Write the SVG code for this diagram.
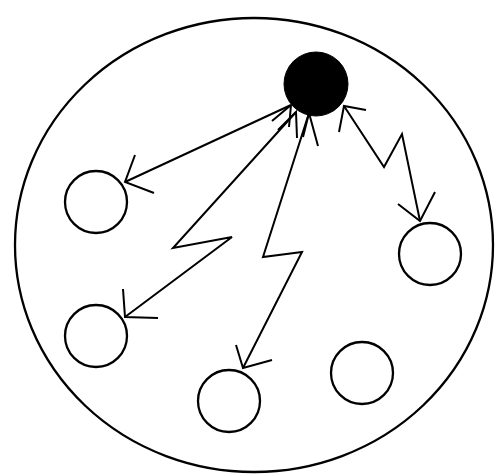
<svg xmlns="http://www.w3.org/2000/svg" width="495" height="476" viewBox="0 0 495 476">
<style>
.ring{fill:none;stroke:#000;stroke-width:2.3}
.hub{fill:#000;stroke:#000;stroke-width:1}
.con{fill:none;stroke:#000;stroke-width:2;stroke-linejoin:miter}
</style>
<rect width="495" height="476" fill="#fff"/>
<g id="boundary"><ellipse class="ring" cx="254" cy="245" rx="239" ry="227"/></g>
<g id="hub"><circle class="hub" cx="316" cy="84" r="32"/></g>
<g id="n1"><circle class="ring" cx="96" cy="202" r="31"/></g>
<g id="n2"><circle class="ring" cx="96" cy="336" r="31"/></g>
<g id="n3"><circle class="ring" cx="229" cy="401" r="31"/></g>
<g id="n4"><circle class="ring" cx="362" cy="373" r="31"/></g>
<g id="n5"><circle class="ring" cx="430" cy="254" r="31"/></g>
<g id="connectors">
  <path class="con" d="M291,105 L125,182"/>
  <path class="con" d="M135,155 L125,182 L154,193"/>
  <path class="con" d="M272,121 L291,105 M291,105 L289,127"/>
  <path class="con" d="M296,112 L173,248 L232,237 L125,317"/>
  <path class="con" d="M123,289 L125,317 L158,318"/>
  <path class="con" d="M278,130 L296,112 L297,138"/>
  <path class="con" d="M309,113 L263,257 L302,252 L243,368"/>
  <path class="con" d="M236,345 L243,368 L272,360"/>
  <path class="con" d="M303,137 L309,113 L318,146"/>
  <path class="con" d="M344,106 L384,167 L402,134 L420,221"/>
  <path class="con" d="M398,204 L420,221 L435,192"/>
  <path class="con" d="M366,110 L344,106 L339,132"/>
</g>
</svg>
